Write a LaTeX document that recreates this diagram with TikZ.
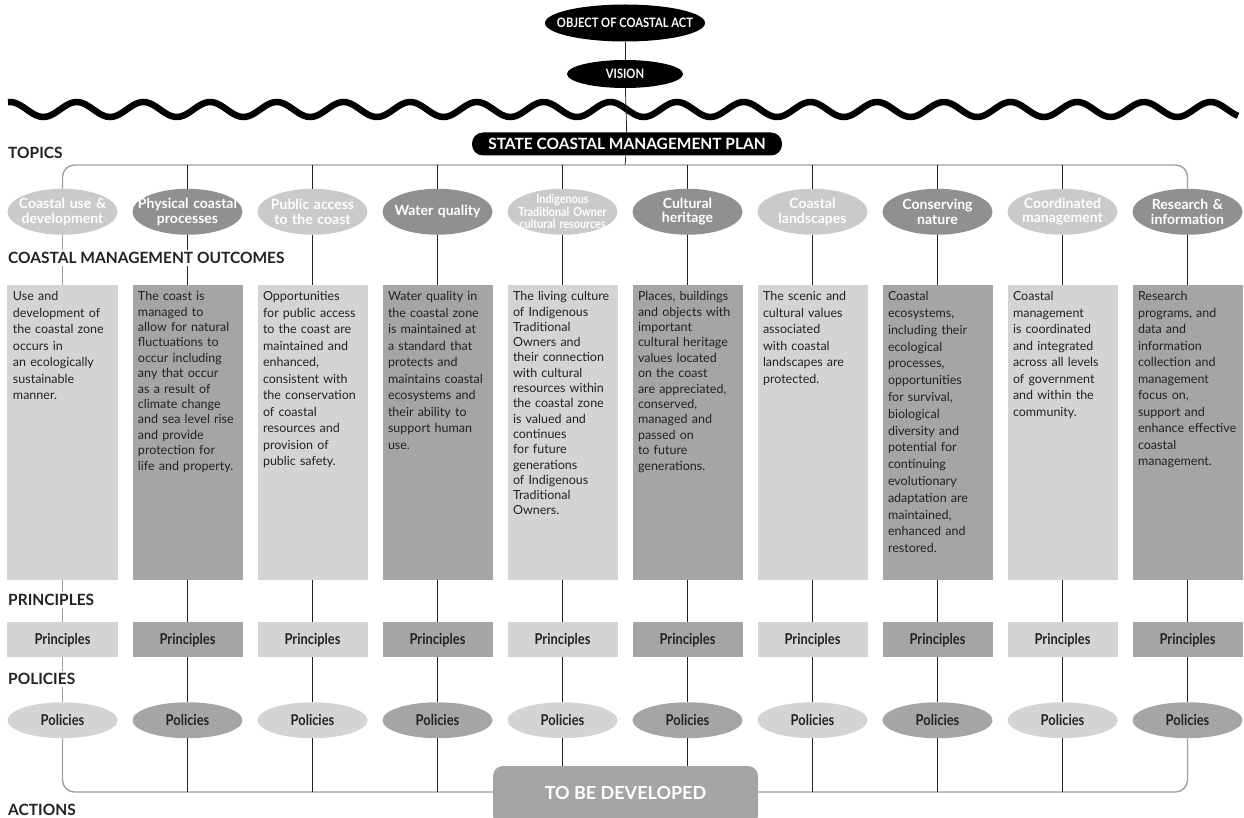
\documentclass[tikz,border=0pt]{standalone}
\usepackage{fontspec}
\setmainfont{Lato}
\newfontfamily\narrowfont{Lato}[FakeStretch=0.86]
\usepackage{xcolor}
\usepackage{tikz}
\usetikzlibrary{matrix,shapes.geometric}
\hyphenpenalty=10000

\definecolor{pale}{HTML}{D3D4D6}
\definecolor{mid}{HTML}{A4A5A7}
\definecolor{topicpale}{HTML}{CACACC}
\definecolor{topicmid}{HTML}{909092}
\definecolor{ink}{HTML}{222222}
\definecolor{rule}{HTML}{A0A0A0}

\begin{document}
\begin{tikzpicture}[x=1pt, y=-1pt,
		blackoval/.style={ellipse, fill=black, text=white, inner sep=0pt, font=\narrowfont\fontsize{13}{13}\selectfont\bfseries},
		topic/.style={ellipse, text=white, text width=100pt, align=center, inner xsep=-25pt, inner ysep=-5pt, minimum width=110pt, minimum height=46pt, font=\fontsize{14}{14.5}\selectfont\bfseries},
		outcome/.style={rectangle, text=ink, text width=99pt, align=left, inner xsep=5.5pt, inner ysep=6pt, text height=10pt, text depth=273pt, minimum width=110pt, font=\fontsize{12.5}{16.5}\selectfont},
		principle/.style={rectangle, text=ink, inner sep=0pt, minimum width=110pt, minimum height=35pt, font=\narrowfont\fontsize{15}{15}\selectfont\bfseries},
		policy/.style={ellipse, text=ink, inner sep=0pt, minimum width=110pt, minimum height=36pt, font=\narrowfont\fontsize{15}{15}\selectfont\bfseries},
		rowlabel/.style={anchor=west, fill=white, inner sep=2pt, text=ink, font=\fontsize{15.5}{15.5}\selectfont\bfseries},
		darkline/.style={draw=ink, line width=0.8pt},
		greyline/.style={draw=rule, line width=1.4pt}]
	\useasboundingbox (0,0) rectangle (1244,818);
	\draw[line width=6.5pt] plot[domain=8:1238, samples=400] (\x, {109.5-7.5*cos(5.397*(\x-10))});
	\node[blackoval, minimum width=160pt, minimum height=37pt, inner xsep=-30pt] (obj) at (625,23) {OBJECT OF COASTAL ACT};
	\node[blackoval, minimum width=116pt, minimum height=28pt] (vis) at (625,74) {VISION};
	\node[rectangle, rounded corners=11pt, fill=black, text=white, minimum width=310pt, minimum height=23pt, inner sep=0pt, font=\fontsize{15.5}{15.5}\selectfont\bfseries] (plan) at (627,144) {STATE COASTAL MANAGEMENT PLAN};
	\coordinate (top) at (625,165);
	\coordinate (base) at (625,792);
	\draw[darkline] (obj) -- (vis);
	\draw[darkline] (vis) -- (plan);
	\draw[darkline] (plan) -- (top);
	\matrix (m) [matrix of nodes, nodes={anchor=center}, column sep={125pt,between origins}, row sep={0pt,between origins}] at (625,463.5) {
		|[topic, fill=topicpale]| {Coastal use \&\\development}	&|[topic, fill=topicmid]| {Physical coastal\\processes}	&|[topic, fill=topicpale]| {Public access\\to the coast}	&|[topic, fill=topicmid]| {Water quality}	&|[topic, fill=topicpale, font=\narrowfont\fontsize{12.5}{12.5}\selectfont\bfseries]| {Indigenous\\Traditional Owner\\cultural resources}	&|[topic, fill=topicmid]| {Cultural\\heritage}	&|[topic, fill=topicpale]| {Coastal\\landscapes}	&|[topic, fill=topicmid]| {Conserving\\nature}	&|[topic, fill=topicpale]| {Coordinated\\management}	&|[topic, fill=topicmid]| {Research \&\\information}	\\[220.5pt]
		|[outcome, fill=pale]| {Use and\\development of\\the coastal zone\\occurs in\\an ecologically\\sustainable\\manner.}	&|[outcome, fill=mid, font=\fontsize{12.5}{15.4}\selectfont]| {The coast is\\managed to\\allow for natural\\fluctuations to\\occur including\\any that occur\\as a result of\\climate change\\and sea level rise\\and provide\\protection for\\life and property.}	&|[outcome, fill=pale]| {Opportunities\\for public access\\to the coast are\\maintained and\\enhanced,\\consistent with\\the conservation\\of coastal\\resources and\\provision of\\public safety.}	&|[outcome, fill=mid]| {Water quality in\\the coastal zone\\is maintained at\\a standard that\\protects and\\maintains coastal\\ecosystems and\\their ability to\\support human\\use.}	&|[outcome, fill=pale, font=\fontsize{12.5}{15.3}\selectfont]| {The living culture\\of Indigenous\\Traditional\\Owners and\\their connection\\with cultural\\resources within\\the coastal zone\\is valued and\\continues\\for future\\generations\\of Indigenous\\Traditional\\Owners.}	&|[outcome, fill=mid, font=\fontsize{12.5}{15.4}\selectfont]| {Places, buildings\\and objects with\\important\\cultural heritage\\values located\\on the coast\\are appreciated,\\conserved,\\managed and\\passed on\\to future\\generations.}	&|[outcome, fill=pale]| {The scenic and\\cultural values\\associated\\with coastal\\landscapes are\\protected.}	&|[outcome, fill=mid, font=\fontsize{12.5}{16.8}\selectfont]| {Coastal\\ecosystems,\\including their\\ecological\\processes,\\opportunities\\for survival,\\biological\\diversity and\\potential for\\continuing\\evolutionary\\adaptation are\\maintained,\\enhanced and\\restored.}	&|[outcome, fill=pale]| {Coastal\\management\\is coordinated\\and integrated\\across all levels\\of government\\and within the\\community.}	&|[outcome, fill=mid]| {Research\\programs, and\\data and\\information\\collection and\\management\\focus on,\\support and\\enhance effective\\coastal\\management.}	\\[207.5pt]
		|[principle, fill=pale]|Principles	&|[principle, fill=mid]|Principles	&|[principle, fill=pale]|Principles	&|[principle, fill=mid]|Principles	&|[principle, fill=pale]|Principles	&|[principle, fill=mid]|Principles	&|[principle, fill=pale]|Principles	&|[principle, fill=mid]|Principles	&|[principle, fill=pale]|Principles	&|[principle, fill=mid]|Principles	\\[80.5pt]
		|[policy, fill=pale]|Policies	&|[policy, fill=mid]|Policies	&|[policy, fill=pale]|Policies	&|[policy, fill=mid]|Policies	&|[policy, fill=pale]|Policies	&|[policy, fill=mid]|Policies	&|[policy, fill=pale]|Policies	&|[policy, fill=mid]|Policies	&|[policy, fill=pale]|Policies	&|[policy, fill=mid]|Policies	\\
	};
	\draw[greyline, rounded corners=12pt] (m-1-1.north) |- (top) -| (m-1-10.north);
	\draw[greyline, rounded corners=12pt] (m-4-1.south) |- (base) -| (m-4-10.south);
	\draw[greyline] (m-1-1) -- (m-2-1);
	\draw[greyline] (m-2-1) -- (m-3-1);
	\draw[greyline] (m-3-1) -- (m-4-1);
	\foreach \c in {2,...,9} {
		\draw[darkline] (m-1-\c.north) -- (m-1-\c.north |- top);
		\draw[darkline] (m-4-\c.south) -- (m-4-\c.south |- base);
	}
	\foreach \c in {2,...,10} {
		\draw[darkline] (m-1-\c) -- (m-2-\c);
		\draw[darkline] (m-2-\c) -- (m-3-\c);
		\draw[darkline] (m-3-\c) -- (m-4-\c);
	}
	\node[rectangle, rounded corners=10pt, fill=mid, text=white, minimum width=265pt, minimum height=60pt, text depth=6pt, font=\fontsize{18}{18}\selectfont\bfseries] (dev) at (625.5,796) {TO BE DEVELOPED};
	\node[rowlabel] (topics) at (6,153) {TOPICS};
	\node[rowlabel] (outcomes) at (6,258) {COASTAL MANAGEMENT OUTCOMES};
	\node[rowlabel] (principles) at (6,600) {PRINCIPLES};
	\node[rowlabel] (policies) at (6,679) {POLICIES};
	\node[rowlabel] (actions) at (6,810) {ACTIONS};
\end{tikzpicture}
\end{document}
